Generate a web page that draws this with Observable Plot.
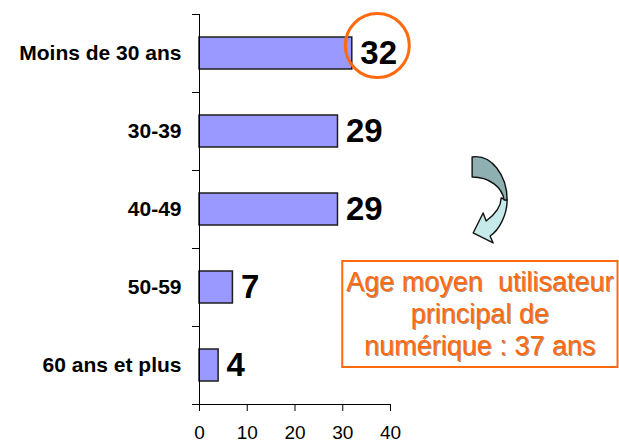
<!DOCTYPE html>
<html>
<head>
<meta charset="utf-8">
<script src="https://cdn.jsdelivr.net/npm/d3@7"></script>
<script src="https://cdn.jsdelivr.net/npm/@observablehq/plot@0.6"></script>
<style>
  html, body { margin: 0; padding: 0; background: #fff; }
  #chart svg { display: block; }
  g[aria-label="y-axis tick label"] { font-weight: bold; font-size: 21px; }
  g[aria-label="x-axis tick label"] { font-size: 19px; }
</style>
</head>
<body>
<div id="chart"></div>
<script>
// ---- data ----
const categories = ["Moins de 30 ans", "30-39", "40-49", "50-59", "60 ans et plus"];
const values = [32, 29, 29, 7, 4];
const xTicks = [0, 10, 20, 30, 40];
const highlighted = ["Moins de 30 ans"];
const noteLines = ["Age moyen  utilisateur", "principal de", "numérique : 37 ans"];

const data = categories.map((cat, i) => ({cat, value: values[i]}));

const FONT = "'Liberation Sans', Arial, Helvetica, sans-serif";
const ORANGE = "#ff6a0e";

function annotation(index, scales, vals, dims) {
  const x = scales.x, y = scales.y;
  const step = y(categories[1]) - y(categories[0]);
  const bw = step * (1 - 0.59);
  const yc = c => y(c) + bw / 2;
  const g = d3.create("svg:g");

  // curved arrow
  const ox = x(57.2), oy = yc("30-39") + 26;
  const a = g.append("g").attr("transform", `translate(${ox},${oy})`)
    .attr("stroke", "#111").attr("stroke-width", 1.4).attr("stroke-linejoin", "round");
  a.append("path")
    .attr("d", "M35 43 C35 58,27 73,18 79 L21 86 L1 76 L11 56 L14 64 C22 58,29 51,29 41 Z")
    .attr("fill", "#c6e9ea");
  a.append("path")
    .attr("d", "M0 0 C19 -3,35 18,35 43 L32 43 C30 30,17 20,0 20 Z")
    .attr("fill", "#8fb0b1");

  // note box
  const left = x(30), right = dims.width - 1.5;
  const top = yc("50-59") - 26, bottom = yc("60 ans et plus") + 2;
  g.append("rect")
    .attr("x", left).attr("y", top)
    .attr("width", right - left).attr("height", bottom - top)
    .attr("fill", "white").attr("stroke", ORANGE).attr("stroke-width", 2);
  const cx = (left + right) / 2, cy = (top + bottom) / 2, lh = 32;
  const t = g.append("text")
    .attr("text-anchor", "middle")
    .attr("font-family", FONT).attr("font-size", 27)
    .attr("fill", ORANGE)
    .attr("style", "text-shadow: 1px 1px 0 rgba(110,45,0,0.55); white-space: pre;");
  noteLines.forEach((line, i) => {
    t.append("tspan")
      .attr("x", cx)
      .attr("y", cy + (i - (noteLines.length - 1) / 2) * lh)
      .attr("dy", "0.35em")
      .text(line);
  });
  return g.node();
}

const chart = Plot.plot({
  width: 619,
  height: 445,
  marginLeft: 199,
  marginRight: 229,
  marginTop: 14,
  marginBottom: 41,
  style: {fontFamily: FONT, background: "white", color: "black", overflow: "visible"},
  x: {domain: [0, 40], ticks: xTicks},
  y: {domain: categories, paddingInner: 0.59, paddingOuter: 0.295},
  marks: [
    Plot.barX(data, {x: "value", y: "cat", fill: "#9999ff", stroke: "#1e1e1e", strokeWidth: 1.5}),
    Plot.ruleX([0], {stroke: "black", strokeWidth: 1}),
    Plot.ruleY(categories, {y: d => d, dy: -39, x1: 0, x2: 0, insetLeft: -7, stroke: "black"}),
    Plot.ruleY(categories.slice(-1), {y: d => d, dy: 39, x1: 0, x2: 40, insetLeft: -7, stroke: "black"}),
    Plot.axisY({tickSize: 0, tickPadding: 18, fontSize: 21, fontWeight: "bold", label: null}),
    Plot.axisX({ticks: xTicks, tickSize: 7, tickPadding: 14, fontSize: 19, label: null, tickFormat: d => String(d), stroke: "black"}),
    Plot.text(data, {x: "value", y: "cat", text: d => String(d.value), dx: 8, textAnchor: "start",
      fontSize: 33, fontWeight: "bold", fill: "black"}),
    Plot.dot(data.filter(d => highlighted.includes(d.cat)), {x: "value", y: "cat", r: 32, dx: 25, dy: -8,
      stroke: ORANGE, strokeWidth: 3, fill: "none"}),
    annotation
  ]
});
document.getElementById("chart").appendChild(chart);
</script>
</body>
</html>
